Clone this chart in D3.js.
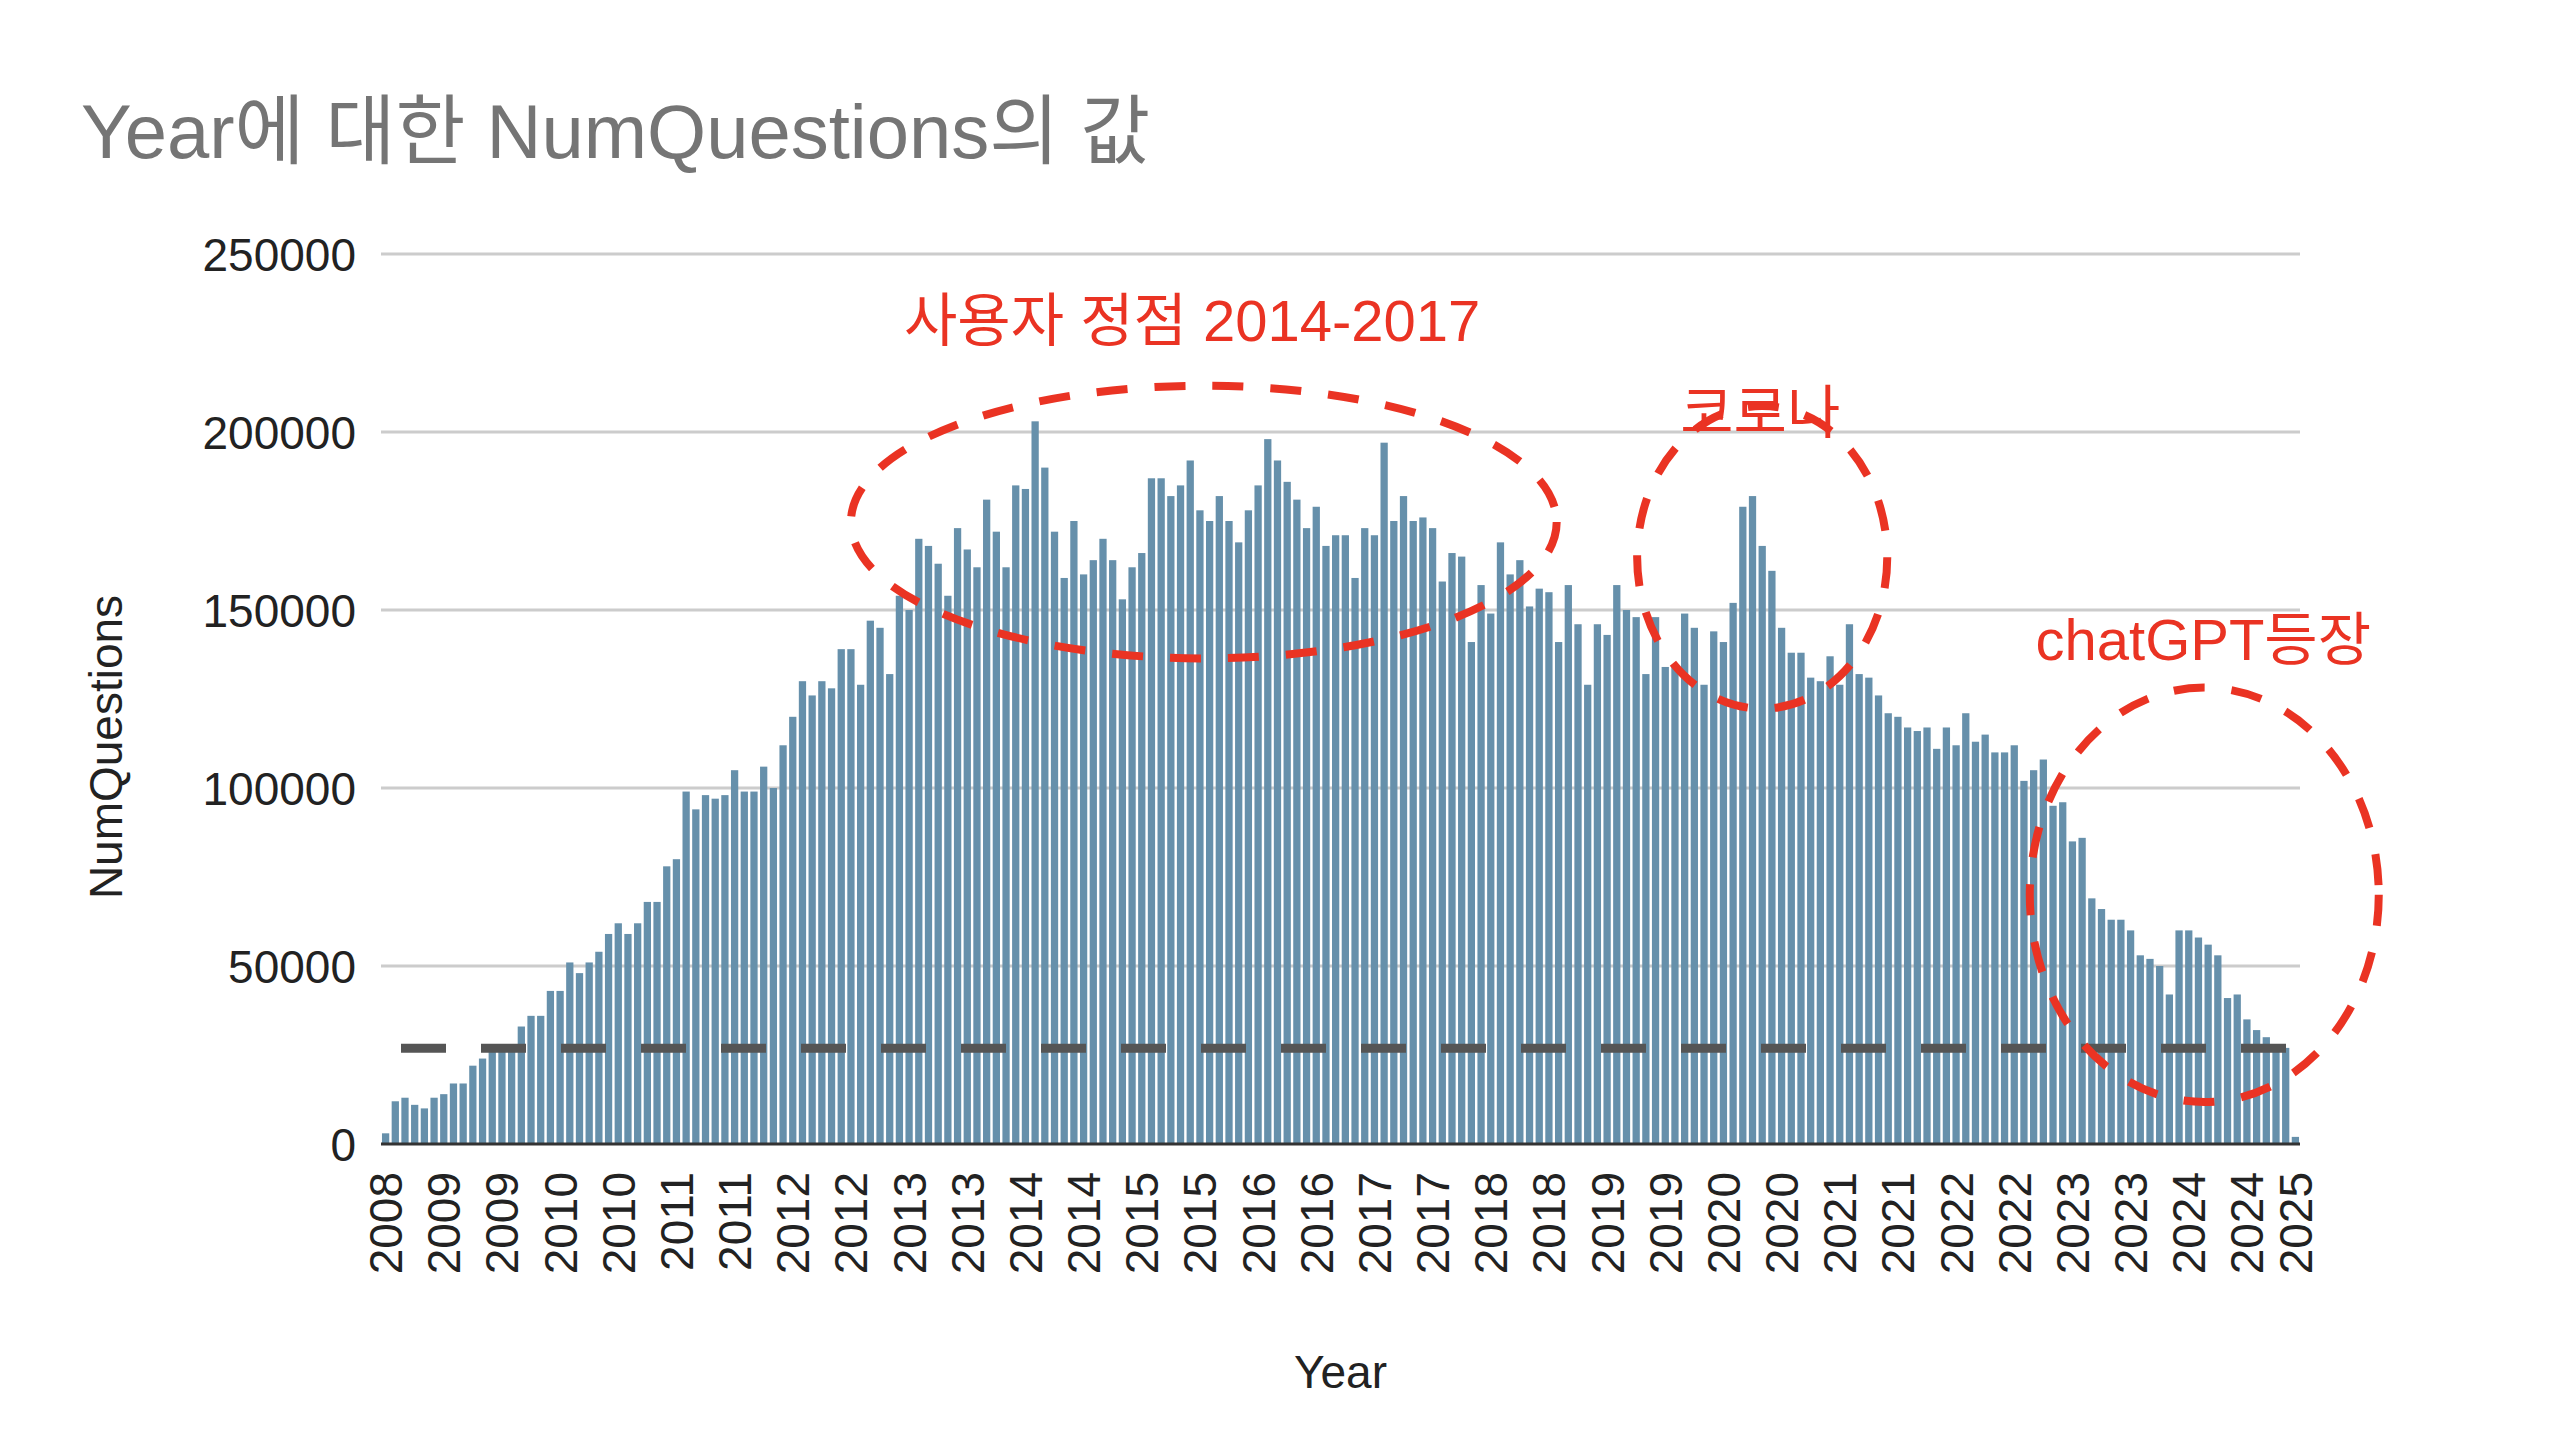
<!DOCTYPE html>
<html><head><meta charset="utf-8">
<script src="https://cdn.jsdelivr.net/npm/d3@7"></script>
<style>body{margin:0;background:#fff}svg{display:block}text{font-family:"Liberation Sans",Arial,"Noto Sans CJK KR",sans-serif}</style>
</head><body>
<script>
const startYear = 2008, startMonth = 8;
const values = [
3,12,13,11,10,13,14,17,17,22, 24,26,27,28,33,36,36,43,43,51, 48,51,54,59,62,59,62,68,68,78,
80,99,94,98,97,98,105,99,99,106, 100,112,120,130,126,130,128,139,139,129, 147,145,132,154,150,170,168,163,154,173,
167,162,181,172,162,185,184,203,190,
172,159,175,160,164,170,164,153,162,166, 187,187,182,185,192,178,175,182,175,169,
178,185,198,192,186,181,173,179,168,171, 171,159,173,171,197,175,182,175,176,173,
158,166,165,141,157,149,169,160,164,151, 156,155,141,157,146,129,146,143,157,150,
148,132,148,134,134,149,145,129,144,141, 152,179,182,168,
161,145,138,138,131,130,137,129,146,132, 131,126,121,120,117,116,117,111,117,112,
121,113,115,110,110,112,102,105,108,95, 96,85,86,69,66,63,63,60,53,52,
50,42,60,60,58,56,53,41,42,35, 32,30,28,27,2
].map(v => v * 1000);
const months = values.map((v, i) => { const m = startMonth - 1 + i; return (startYear + Math.floor(m / 12)) + "-" + String(m % 12 + 1).padStart(2, "0"); });
const yTicks = [0, 50000, 100000, 150000, 200000, 250000];
const refValue = 26900;
const annotations = [
  {text: "사용자 정점 2014-2017", tx: 83.2, ty: 225600, cx: 84.4, cy: 174700, rx: 36.4, ry: 38300},
  {text: "코로나", tx: 141.8, ty: 199800, cx: 142, cy: 164800, rx: 12.9, ry: 42500},
  {text: "chatGPT등장", tx: 187.5, ty: 135900, cx: 187.6, cy: 70000, rx: 18, ry: 58200}
];

const W = 2560, H = 1442, L = 381, R = 2300, T = 254, B = 1144;
const svg = d3.select("body").append("svg").attr("width", W).attr("height", H);
const x = d3.scaleBand().domain(months).range([L, R]).paddingInner(0.25).paddingOuter(0.1);
const y = d3.scaleLinear().domain([0, 250000]).range([B, T]);
const step = x.step();
const xi = i => x(months[0]) + x.bandwidth() / 2 + i * step;

svg.append("text").attr("x", 81).attr("y", 158).attr("font-size", 76).attr("fill", "#757575").text("Year에 대한 NumQuestions의 값");

svg.append("g").selectAll("line").data(yTicks.filter(d => d > 0)).join("line")
  .attr("x1", L).attr("x2", R).attr("y1", d => y(d)).attr("y2", d => y(d)).attr("stroke", "#cccccc").attr("stroke-width", 3);
svg.append("g").selectAll("text").data(yTicks).join("text")
  .attr("x", 356).attr("y", d => y(d)).attr("dy", "0.36em").attr("text-anchor", "end")
  .attr("font-size", 46).attr("fill", "#222").text(d => d);

svg.append("g").selectAll("rect").data(values).join("rect")
  .attr("x", (d, i) => x(months[i])).attr("width", x.bandwidth())
  .attr("y", d => y(d)).attr("height", d => B - y(d)).attr("fill", "#6690ab");

svg.append("line").attr("x1", L).attr("x2", R).attr("y1", B).attr("y2", B).attr("stroke", "#333").attr("stroke-width", 3);

svg.append("line").attr("x1", L + 20).attr("x2", R - 5).attr("y1", y(refValue)).attr("y2", y(refValue))
  .attr("stroke", "#555").attr("stroke-width", 9).attr("stroke-dasharray", "45,35");

const tickIdx = d3.range(0, months.length, 6).concat([months.length - 1]);
svg.append("g").selectAll("text").data(tickIdx).join("text")
  .attr("transform", i => `translate(${xi(i)},${B + 28}) rotate(-90)`)
  .attr("text-anchor", "end").attr("dy", "0.36em").attr("font-size", 46).attr("fill", "#222")
  .text(i => months[i].slice(0, 4));

svg.append("text").attr("x", (L + R) / 2).attr("y", 1388).attr("text-anchor", "middle").attr("font-size", 46).attr("fill", "#222").text("Year");
svg.append("text").attr("transform", `translate(122,747) rotate(-90)`).attr("text-anchor", "middle").attr("font-size", 46).attr("fill", "#222").text("NumQuestions");

const red = "#ea3323";
const ag = svg.append("g");
annotations.forEach(a => {
  ag.append("ellipse").attr("cx", xi(a.cx)).attr("cy", y(a.cy)).attr("rx", a.rx * step).attr("ry", y(0) - y(a.ry))
    .attr("fill", "none").attr("stroke", red).attr("stroke-width", 8).attr("stroke-dasharray", "31,27");
  ag.append("text").attr("x", xi(a.tx)).attr("y", y(a.ty)).attr("text-anchor", "middle").attr("font-size", 58).attr("fill", red).text(a.text);
});
</script>
</body></html>
